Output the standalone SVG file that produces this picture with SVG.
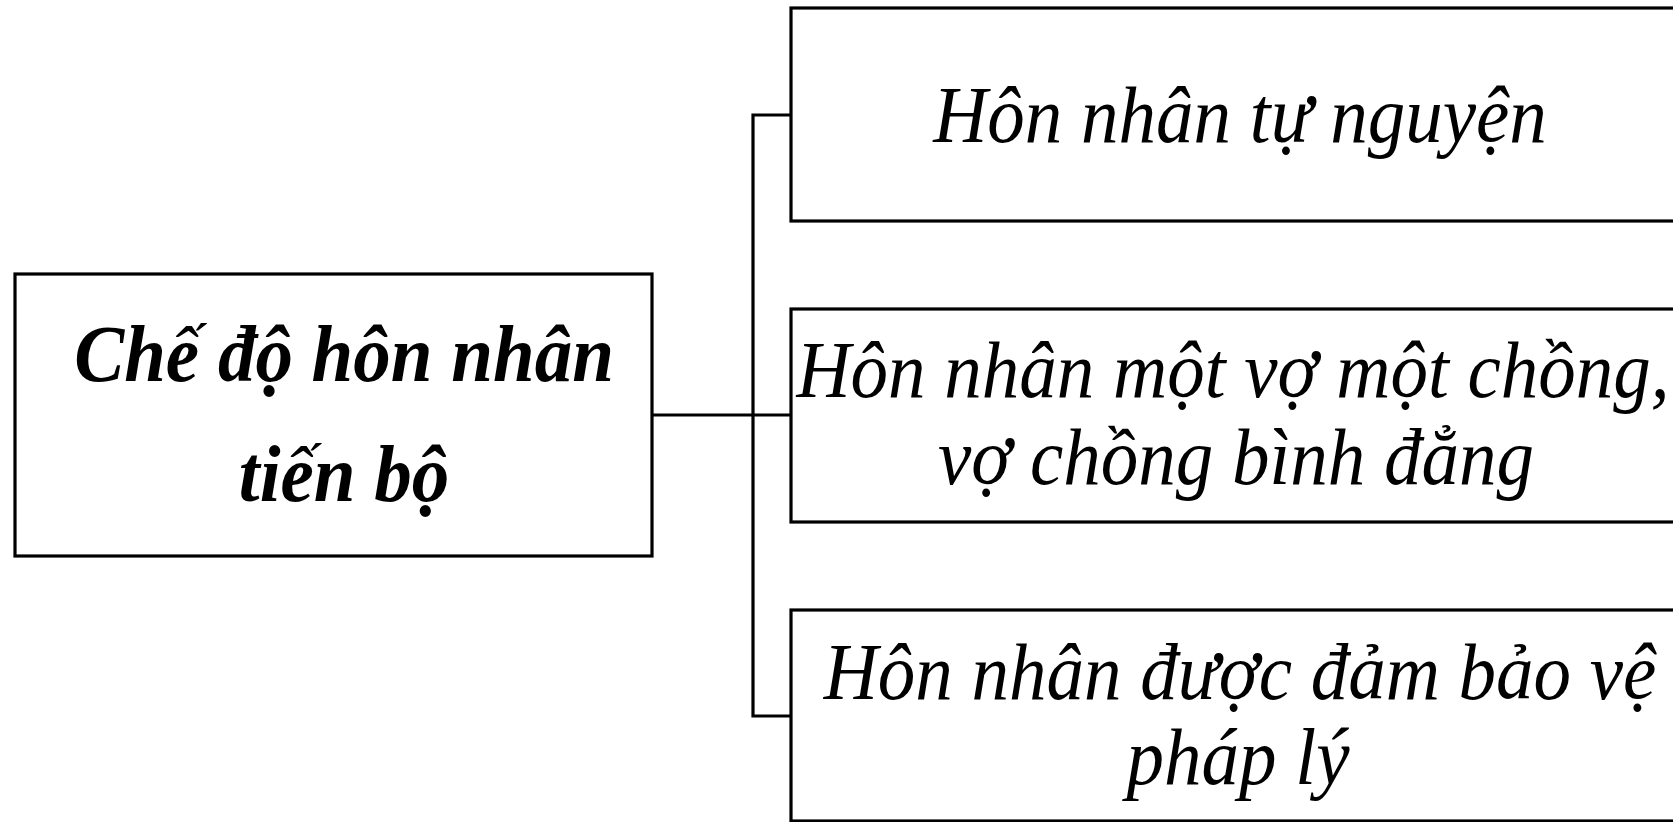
<svg xmlns="http://www.w3.org/2000/svg" width="1673" height="822" viewBox="0 0 1673 822">
<style>
.box{fill:#fff;stroke:#000;stroke-width:3.2}
.con{fill:none;stroke:#000;stroke-width:3.2}
.t{font-family:"Liberation Serif","Times New Roman",serif;font-style:italic;font-size:75px;fill:#000;text-anchor:middle}
.b{font-weight:bold}
</style>
<rect width="1673" height="822" fill="#fff"/>
<g id="connectors">
<polyline class="con" points="791,115 753,115 753,716 791,716"/>
<line class="con" x1="652" y1="415" x2="792" y2="415"/>
</g>
<g id="root">
<rect class="box" x="15" y="274" width="637" height="282"/>
<text class="t b" transform="translate(344,381) scale(1,1.07)">Chế độ hôn nhân</text>
<text class="t b" transform="translate(344,501) scale(1,1.07)">tiến bộ</text>
</g>
<g id="n1">
<rect class="box" x="791" y="8" width="900" height="213"/>
<text class="t" transform="translate(1240,142) scale(1,1.07)">Hôn nhân tự nguyện</text>
</g>
<g id="n2">
<rect class="box" x="791" y="309" width="900" height="213"/>
<text class="t" transform="translate(1233,397) scale(1,1.07)">Hôn nhân một vợ một chồng,</text>
<text class="t" transform="translate(1236,484) scale(1,1.07)">vợ chồng bình đẳng</text>
</g>
<g id="n3">
<rect class="box" x="791" y="610" width="900" height="211"/>
<text class="t" transform="translate(1240,699) scale(1,1.07)">Hôn nhân được đảm bảo vệ</text>
<text class="t" transform="translate(1238,784) scale(1,1.07)">pháp lý</text>
</g>
</svg>
